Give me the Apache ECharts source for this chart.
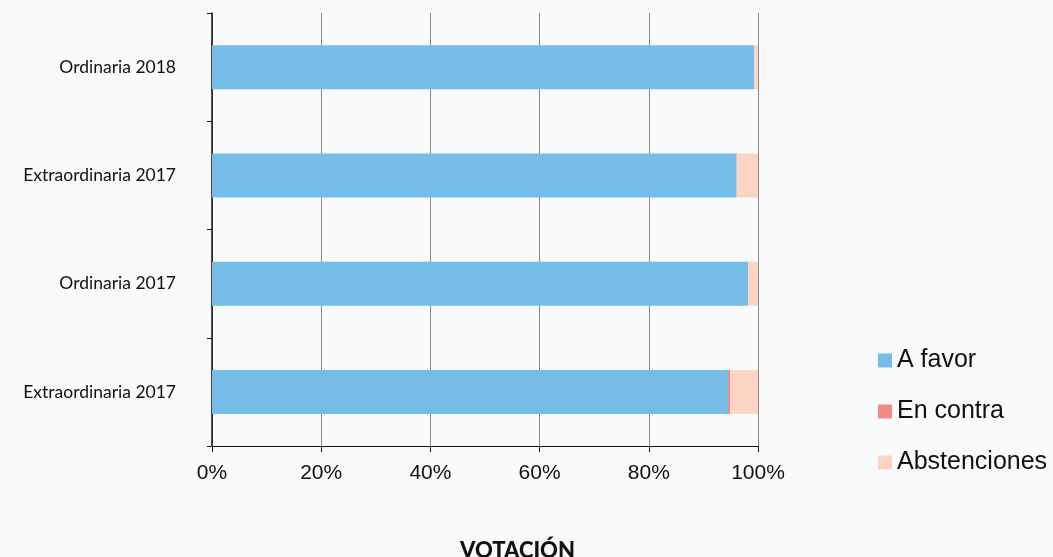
<!DOCTYPE html>
<html>
<head>
<meta charset="utf-8">
<script src="https://cdn.jsdelivr.net/npm/echarts@6/dist/echarts.min.js"></script>
<style>
  html, body { margin: 0; padding: 0; background: #f9fafc; }
  #chart { width: 1053px; height: 557px; }
</style>
</head>
<body>
<div id="chart"></div>
<script>
// data (percent of votes)
var categories = ["Ordinaria 2018", "Extraordinaria 2017", "Ordinaria 2017", "Extraordinaria 2017"];
var aFavor = [99.3, 96.1, 98.2, 94.5];
var enContra = [0, 0, 0, 0.4];
var abstenciones = [0.7, 3.9, 1.8, 5.1];
var xTicks = [0, 20, 40, 60, 80, 100];

var chart = echarts.init(document.getElementById("chart"));

var option = {
	backgroundColor: "#f9fafc",
	animation: false,
	grid: { left: 212, right: 295, top: 13, bottom: 111, outerBoundsMode: "none", containLabel: false },
	legend: {
		orient: "vertical",
		left: 873,
		top: 343,
		itemWidth: 14,
		itemHeight: 14,
		itemGap: 26,
		icon: "rect",
		textStyle: { fontFamily: "Liberation Sans", fontSize: 25, color: "#111", lineHeight: 25, padding: [0, 0, 0, 0] },
		data: ["A favor", "En contra", "Abstenciones"]
	},
	graphic: [{
		type: "text",
		left: 460,
		top: 540,
		style: { text: "VOTACIÓN", font: "900 22px Lato", fill: "#111" }
	}],
	xAxis: {
		type: "value",
		min: xTicks[0],
		max: xTicks[xTicks.length - 1],
		interval: 20,
		axisLine: { show: true, lineStyle: { color: "#111", width: 1 } },
		axisTick: { show: true, length: 6, lineStyle: { color: "#111" } },
		axisLabel: {
			fontFamily: "Liberation Sans", fontSize: 21, color: "#111", margin: 17,
			formatter: function (v) { return v + "%"; }
		},
		splitLine: { show: true, lineStyle: { color: "#8a8a8a", width: 1 } }
	},
	yAxis: {
		type: "category",
		inverse: true,
		data: categories,
		axisLine: { show: true, lineStyle: { color: "#111", width: 1.5 } },
		axisTick: { show: true, length: 5, lineStyle: { color: "#111" } },
		axisLabel: { fontFamily: "Lato", fontSize: 17.5, color: "#111", margin: 36 }
	},
	series: [
		{ name: "A favor", type: "bar", stack: "v", barWidth: 44, data: aFavor, itemStyle: { color: "#75bde9" } },
		{ name: "En contra", type: "bar", stack: "v", barWidth: 44, data: enContra, itemStyle: { color: "#f28b86" } },
		{ name: "Abstenciones", type: "bar", stack: "v", barWidth: 44, data: abstenciones, itemStyle: { color: "#fdd4c3" } }
	]
};

chart.setOption(option);
</script>
</body>
</html>
